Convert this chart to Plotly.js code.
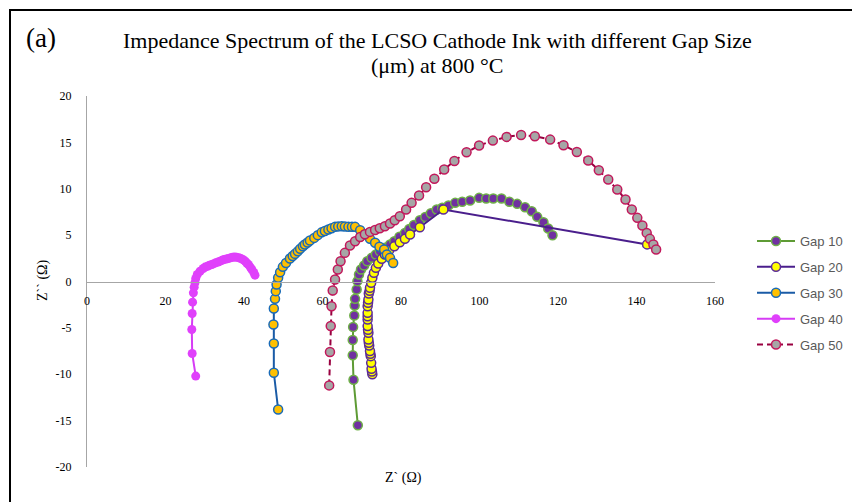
<!DOCTYPE html>
<html>
<head>
<meta charset="utf-8">
<script src="https://cdn.plot.ly/plotly-3.0.1.min.js"></script>
<style>html,body{margin:0;padding:0;background:#fff;}#chart{width:852px;height:502px;}</style>
</head>
<body>
<div id="chart"></div>
<script>
// ---- Data (Z' real, Z'' imaginary, Ohm) ----
const seriesNames = ["Gap 10", "Gap 20", "Gap 30", "Gap 40", "Gap 50"];
const titleLines = ["Impedance Spectrum of the LCSO Cathode Ink with different Gap Size", "(μm) at 800 °C"];

const gap10X = [69.0,67.9,67.7,67.7,67.8,68.1,68.2,68.3,68.7,68.9,69.3,69.8,70.6,71.4,72.5,73.6,74.6,75.9,77.2,78.3,79.6,81.0,82.1,83.3,84.8,86.2,87.6,89.1,90.5,92.1,93.8,95.6,97.6,99.9,101.7,103.5,105.6,107.6,109.6,111.6,113.3,114.7,116.3,117.5,118.6];
const gap10Y = [-15.5,-10.6,-7.95,-6.3,-4.9,-3.66,-2.6,-1.87,-0.86,0.04,0.75,1.29,1.72,2.19,2.55,2.91,3.27,3.63,3.99,4.34,4.82,5.24,5.67,6.1,6.6,6.95,7.35,7.76,7.95,8.19,8.48,8.59,8.73,9.02,8.94,8.94,8.94,8.59,8.37,8.01,7.58,6.97,6.39,5.71,4.99];

const gap20X = [72.7,72.6,72.5,72.4,72.3,72.2,72.1,71.9,71.8,71.7,71.7,71.6,71.5,71.5,71.5,71.5,71.5,71.6,71.7,71.8,72.0,72.1,72.4,72.7,73.1,73.6,74.2,75.1,75.9,77.0,78.3,79.7,81.0,82.3,84.8,90.8,142.7];
const gap20Y = [-10.0,-9.7,-9.4,-8.77,-8.05,-7.8,-7.5,-6.9,-6.6,-6.25,-5.53,-5.2,-4.81,-4.1,-3.75,-3.38,-2.66,-2.3,-1.94,-1.29,-1.0,-0.68,-0.14,0.4,0.93,1.47,1.94,2.44,2.91,3.37,3.8,4.23,4.6,5.06,5.85,7.76,4.0];

const gap30X = [48.7,47.6,47.6,47.5,47.6,47.9,48.1,48.3,48.7,49.2,49.9,50.7,51.7,52.4,53.0,53.7,54.3,55.0,55.5,56.2,56.8,57.9,58.8,59.8,60.6,61.5,62.3,63.2,64.0,64.9,65.7,66.6,67.5,68.3,69.6,70.8,72.1,73.4,74.5,75.7,76.4,77.2,78.0];
const gap30Y = [-13.8,-9.84,-6.68,-4.63,-2.91,-1.87,-1.04,-0.32,0.4,1.0,1.58,2.0,2.48,2.75,2.98,3.25,3.52,3.8,3.99,4.2,4.42,4.7,5.0,5.3,5.45,5.6,5.75,5.89,5.94,5.96,5.92,5.89,5.9,5.89,5.53,5.06,4.6,4.17,3.74,3.45,2.91,2.55,2.0];

const gap40X = [27.7,26.8,26.7,26.8,26.9,27.1,27.3,27.5,27.7,28.1,28.8,29.6,30.1,30.7,31.2,31.8,32.3,32.8,33.4,33.9,34.4,34.9,35.5,36.0,36.6,37.1,37.6,38.1,38.7,39.2,39.8,40.3,40.7,41.1,41.6,42.0,42.5,42.8];
const gap40Y = [-10.2,-7.76,-5.17,-3.45,-2.23,-1.22,-0.61,-0.14,0.32,0.75,1.11,1.4,1.55,1.65,1.75,1.83,1.92,2.01,2.1,2.19,2.28,2.37,2.43,2.48,2.55,2.62,2.64,2.62,2.56,2.48,2.35,2.19,2.0,1.83,1.55,1.29,0.98,0.68];

const gap50X = [61.7,61.9,62.1,62.3,62.6,63.2,63.9,64.6,65.7,67.0,68.3,69.6,70.8,72.1,73.4,74.6,75.9,77.2,78.4,79.7,81.3,82.7,84.6,86.4,88.5,91.0,93.6,96.7,99.9,103.4,106.9,110.6,114.1,118.0,121.4,124.8,127.7,130.4,132.8,135.1,137.2,138.8,140.2,141.5,142.6,143.4,144.3,145.0];
const gap50Y = [-11.2,-7.6,-4.8,-2.66,-0.97,0.22,1.29,2.19,3.09,3.88,4.34,4.8,5.1,5.35,5.55,5.75,5.96,6.25,6.6,7.04,7.76,8.48,9.27,10.16,11.07,12.07,13.0,13.93,14.66,15.19,15.59,15.8,15.66,15.3,14.69,13.97,13.04,12.0,10.99,9.91,8.84,7.76,6.86,6.03,5.24,4.6,3.99,3.45];

const xTickVals = [0,20,40,60,80,100,120,140,160];
const yTickVals = [-20,-15,-10,-5,0,5,10,15,20];

// ---- Layout geometry ----
const W = 852, H = 502;
const M = {l: 87, r: 137, t: 96, b: 35};
const pw = W - M.l - M.r, ph = H - M.t - M.b;
const px2paperX = p => (p - M.l) / pw;
const py2paperY = p => (H - M.b - p) / ph;

const serif = "Liberation Serif, Times New Roman, serif";
const sans = "Liberation Sans, Arial, sans-serif";

function tr(name, x, y, lineColor, fill, outline, size, dash) {
  return {
    type: "scatter", mode: "lines+markers", name: name, x: x, y: y,
    legendgroup: name,
    line: {color: lineColor, width: 2, dash: dash || "solid"},
    marker: {size: size, color: fill, line: {color: outline || fill, width: outline ? 1.5 : 0}},
    cliponaxis: false
  };
}

const data = [
  tr(seriesNames[0], gap10X, gap10Y, "#5E9B35", "#7030A0", "#6FB048", 9),
  tr(seriesNames[1], gap20X, gap20Y, "#4A1E8C", "#FFFF00", "#5B2A99", 9),
  tr(seriesNames[2], gap30X, gap30Y, "#1A5BA6", "#FFC000", "#1A6BB8", 9),
  tr(seriesNames[3], gap40X, gap40Y, "#D63CF5", "#E040FB", null, 9),
  tr(seriesNames[4], gap50X, gap50Y, "#990040", "#A6A6A6", "#C2185B", 9, "6px,4px")
];

const layout = {
  width: W, height: H,
  margin: M,
  paper_bgcolor: "#fff", plot_bgcolor: "#fff",
  showlegend: true,
  xaxis: {
    range: [0, 160], tickvals: xTickVals, ticktext: xTickVals.map(String),
    showgrid: false, zeroline: false, showline: true, linecolor: "#A6A6A6", linewidth: 1,
    anchor: "free", position: 0.5, ticks: "", ticklabelstandoff: 8,
    tickfont: {family: serif, size: 12, color: "#000"}
  },
  yaxis: {
    range: [-20, 20], tickvals: yTickVals, ticktext: yTickVals.map(String),
    showgrid: false, zeroline: false, showline: true, linecolor: "#A6A6A6", linewidth: 1,
    ticks: "", ticklabelstandoff: 12,
    tickfont: {family: serif, size: 12, color: "#000"}
  },
  legend: {
    xref: "container", yref: "container",
    x: 752 / W, xanchor: "left", y: 1 - 226 / H, yanchor: "top",
    traceorder: "grouped", tracegroupgap: 6, itemwidth: 38,
    font: {family: sans, size: 13, color: "#595959"},
    bgcolor: "rgba(0,0,0,0)", borderwidth: 0
  },
  annotations: [
    {text: titleLines[0], xref: "paper", yref: "paper", x: px2paperX(437), y: py2paperY(40),
     xanchor: "center", yanchor: "middle", showarrow: false,
     font: {family: serif, size: 22, color: "#000"}},
    {text: titleLines[1], xref: "paper", yref: "paper", x: px2paperX(437), y: py2paperY(65),
     xanchor: "center", yanchor: "middle", showarrow: false,
     font: {family: serif, size: 22, color: "#000"}},
    {text: "(a)", xref: "paper", yref: "paper", x: px2paperX(41), y: py2paperY(38),
     xanchor: "center", yanchor: "middle", showarrow: false,
     font: {family: serif, size: 27, color: "#000"}},
    {text: "Z` (Ω)", xref: "paper", yref: "paper", x: px2paperX(403), y: py2paperY(478),
     xanchor: "center", yanchor: "middle", showarrow: false,
     font: {family: serif, size: 14, color: "#000"}},
    {text: "Z`` (Ω)", xref: "paper", yref: "paper", x: px2paperX(43), y: py2paperY(281),
     xanchor: "center", yanchor: "middle", showarrow: false, textangle: -90,
     font: {family: serif, size: 14, color: "#000"}}
  ],
  shapes: [
    {type: "path", xref: "paper", yref: "paper",
     path: "M " + px2paperX(10) + " " + py2paperY(510) + " L " + px2paperX(10) + " " + py2paperY(10) +
           " L " + px2paperX(860) + " " + py2paperY(10),
     line: {color: "#000", width: 2}}
  ]
};

Plotly.newPlot("chart", data, layout, {displayModeBar: false, staticPlot: true});
</script>
</body>
</html>
